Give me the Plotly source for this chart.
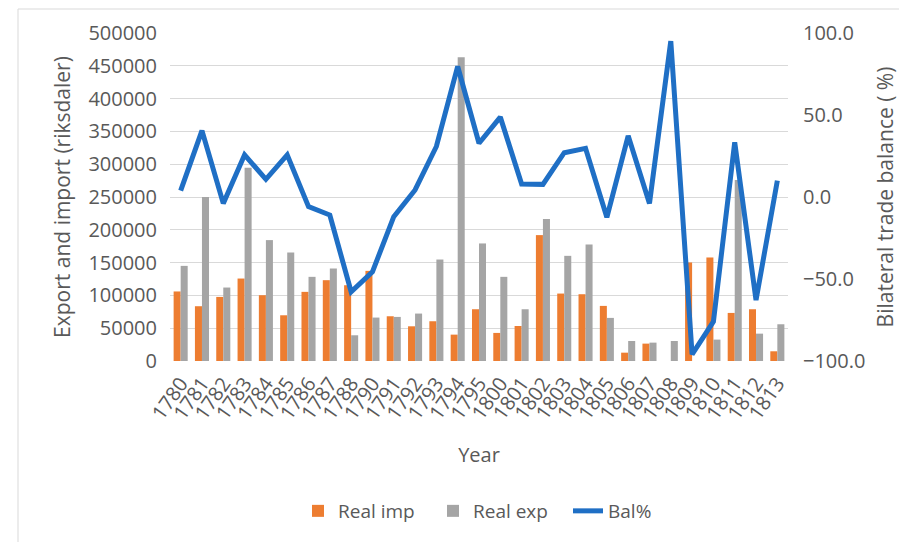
import plotly.graph_objects as go

years = ["1780", "1781", "1782", "1783", "1784", "1785", "1786", "1787", "1788",
         "1790", "1791", "1792", "1793", "1794", "1795", "1800", "1801", "1802",
         "1803", "1804", "1805", "1806", "1807", "1808", "1809", "1810", "1811",
         "1812", "1813"]

real_imp = [106000, 83500, 97700, 125700, 100300, 69700, 105400, 123200, 115500,
            137400, 68200, 52900, 60600, 40200, 78900, 42800, 53400, 191900,
            102800, 101800, 84000, 12700, 26500, 0, 150200, 157800, 73300,
            78900, 14800]

real_exp = [145000, 250000, 112000, 294700, 184300, 165400, 128300, 141000, 39200,
            66200, 67200, 72300, 154700, 463200, 179200, 128300, 78900, 216300,
            160300, 177600, 65700, 30500, 28000, 30500, 0, 32600, 275900,
            41700, 56000]

bal_pct = [3.9, 40.5, -3.9, 25.7, 10.8, 25.7, -5.9, -11.0, -57.8,
           -45.6, -12.0, 4.3, 30.8, 79.6, 32.8, 48.7, 7.9, 7.7,
           27.0, 29.7, -12.4, 37.3, -3.9, 95.0, -96.0, -76.0, 33.4,
           -62.9, 10.0]

TEXT = "#595959"
GRID = "#d9d9d9"
FONT = "Open Sans, Noto Sans, DejaVu Sans, sans-serif"

fig = go.Figure()
fig.add_trace(go.Bar(x=years, y=real_imp, name="Real imp",
                     marker=dict(color="#ED7D31", line=dict(width=0))))
fig.add_trace(go.Bar(x=years, y=real_exp, name="Real exp",
                     marker=dict(color="#A5A5A5", line=dict(width=0))))
fig.add_trace(go.Scatter(x=years, y=bal_pct, name="Bal%", yaxis="y2",
                         mode="lines", line=dict(color="#1F6FC5", width=5)))

# plot-area geometry in pixels, used for the outer frame and legend placement
W, H = 899, 542
ML, MR, MT, MB = 170, 111, 33, 181
pw, ph = W - ML - MR, H - MT - MB


def px_x(p):
    return (p - ML) / pw


def px_y(p):
    return (H - MB - p) / ph


fig.update_layout(
    width=W, height=H,
    margin=dict(l=ML, r=MR, t=MT, b=MB, autoexpand=False),
    paper_bgcolor="white", plot_bgcolor="white",
    font=dict(family=FONT, color=TEXT, size=20),
    barmode="group", bargap=0.34, bargroupgap=0,
    showlegend=True,
    legend=dict(orientation="h", x=px_x(298), xanchor="left", y=px_y(511), yanchor="middle",
                font=dict(size=19, color=TEXT), traceorder="normal",
                itemwidth=30, entrywidth=90, entrywidthmode="pixels"),
    xaxis=dict(type="category", tickmode="linear", tick0=0, dtick=1, automargin=False,
               tickangle=-55, tickfont=dict(size=20, color=TEXT),
               ticklabelstandoff=6,
               showgrid=False, showline=False, ticks="",
               title=dict(text="Year", font=dict(size=20, color=TEXT), standoff=24)),
    yaxis=dict(range=[0, 500000], dtick=50000, tickformat="d", automargin=False,
               showgrid=True, gridcolor=GRID, gridwidth=1, zeroline=False,
               showline=False, ticks="", tickfont=dict(size=20, color=TEXT),
               ticklabelstandoff=12,
               title=dict(text="Export and import (riksdaler)",
                          font=dict(size=21, color=TEXT), standoff=12)),
    yaxis2=dict(range=[-100, 100], dtick=50, tickformat=".1f", overlaying="y",
                automargin=False,
                side="right", showgrid=False, zeroline=False, showline=False,
                ticks="", tickfont=dict(size=20, color=TEXT),
                ticklabelstandoff=14,
                title=dict(text="Bilateral trade balance ( %)",
                           font=dict(size=21, color=TEXT), standoff=14)),
    shapes=[dict(type="rect", xref="paper", yref="paper",
                 x0=px_x(18), x1=px_x(W + 5), y0=px_y(H + 5), y1=px_y(9),
                 line=dict(color=GRID, width=1), layer="below")],
)

fig.write_html("out.html")
